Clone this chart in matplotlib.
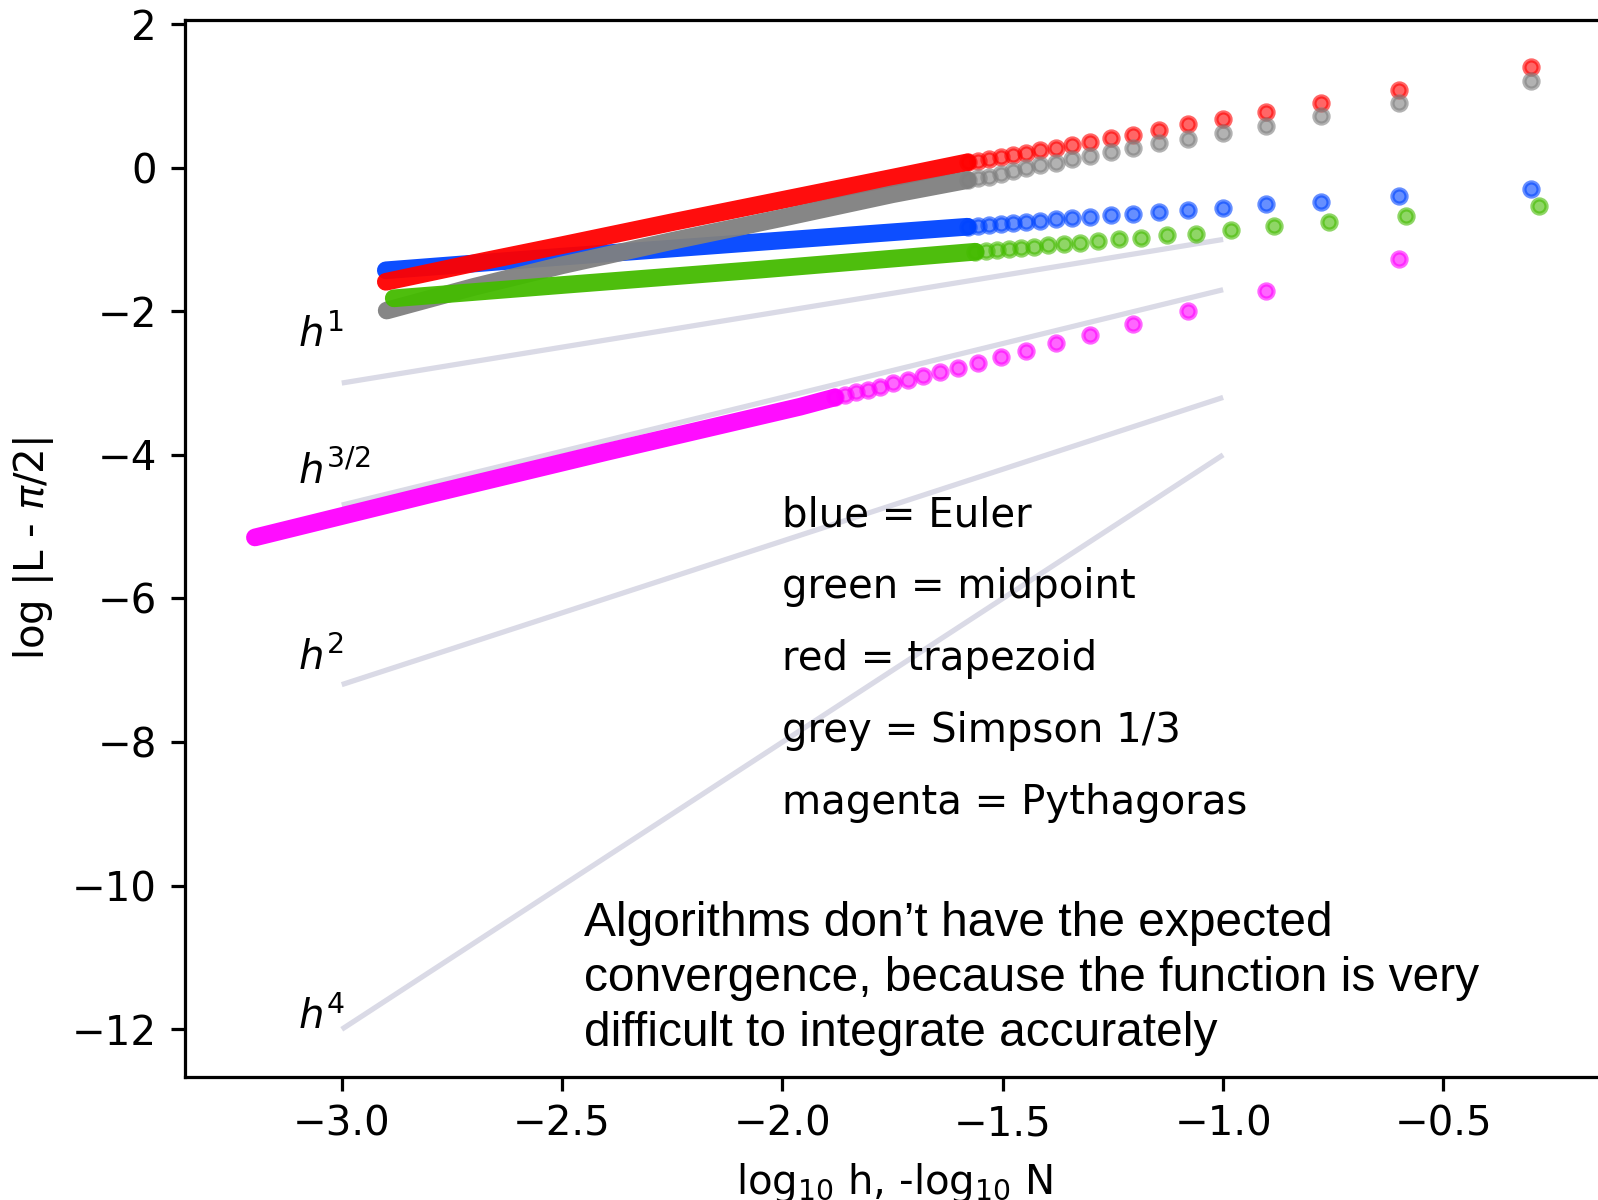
import matplotlib
matplotlib.use("Agg")
import matplotlib.pyplot as plt

# ---------------- data ----------------
# sparse (distinct) points, x = log10 h
x_even = [-0.301, -0.602, -0.778, -0.903, -1.000, -1.079, -1.146, -1.204, -1.255,
          -1.301, -1.342, -1.380, -1.415, -1.447, -1.477, -1.505, -1.531, -1.556, -1.580]
x_green = [-0.283, -0.584, -0.760, -0.885, -0.982, -1.061, -1.128, -1.186, -1.237,
           -1.283, -1.324, -1.362, -1.397, -1.429, -1.459, -1.487, -1.513, -1.538, -1.562]

blue_y = [-0.302, -0.396, -0.475, -0.511, -0.558, -0.591, -0.616, -0.646, -0.658,
          -0.684, -0.697, -0.716, -0.739, -0.753, -0.767, -0.786, -0.800, -0.813, -0.823]
green_y = [-0.531, -0.674, -0.758, -0.813, -0.869, -0.920, -0.941, -0.973, -0.995,
           -1.018, -1.046, -1.064, -1.078, -1.102, -1.116, -1.134, -1.148, -1.157, -1.171]
red_y = [1.397, 1.081, 0.895, 0.770, 0.675, 0.603, 0.524, 0.457, 0.416,
         0.361, 0.315, 0.270, 0.240, 0.208, 0.175, 0.150, 0.118, 0.092, 0.074]
grey_y = [1.206, 0.896, 0.719, 0.575, 0.478, 0.400, 0.338, 0.277, 0.212,
          0.162, 0.115, 0.069, 0.036, -0.010, -0.043, -0.089, -0.126, -0.149, -0.173]

magenta_x = [-0.602, -0.903, -1.079, -1.204, -1.301, -1.380, -1.447, -1.505,
             -1.556, -1.602, -1.643, -1.681, -1.716, -1.748, -1.778, -1.806,
             -1.833, -1.857, -1.881]
magenta_y = [-1.270, -1.725, -1.995, -2.178, -2.335, -2.449, -2.549, -2.640,
             -2.715, -2.785, -2.845, -2.900, -2.955, -3.000, -3.050, -3.090,
             -3.130, -3.165, -3.200]

# dense part (markers merge into a band): points read along the band
blue_band_x = [-2.900, -2.500, -2.050, -1.580]
blue_band_y = [-1.430, -1.240, -1.035, -0.823]
green_band_x = [-2.882, -2.500, -2.050, -1.562]
green_band_y = [-1.820, -1.635, -1.420, -1.171]
red_band_x = [-2.900, -2.700, -2.500, -2.250, -2.000, -1.750, -1.580]
red_band_y = [-1.590, -1.330, -1.080, -0.760, -0.450, -0.140, 0.074]
grey_band_x = [-2.898, -2.700, -2.500, -2.250, -2.000, -1.750, -1.580]
grey_band_y = [-1.990, -1.660, -1.360, -1.020, -0.700, -0.370, -0.173]
magenta_band_x = [-3.197, -2.800, -2.400, -1.960, -1.881]
magenta_band_y = [-5.150, -4.550, -3.960, -3.330, -3.200]

# reference slopes h^p
ref_x = [-3.0, -1.0]
ref_lines = {
    "$h^1$": [-3.0, -1.0],
    "$h^{3/2}$": [-4.7, -1.7],
    "$h^2$": [-7.2, -3.2],
    "$h^4$": [-12.0, -4.0],
}
ref_label_x = -3.1
ref_label_y = [-2.5, -4.4, -7.0, -12.0]

legend_lines = ["blue = Euler", "green = midpoint", "red = trapezoid",
                "grey = Simpson 1/3", "magenta = Pythagoras"]
legend_y = [-5, -6, -7, -8, -9]

note = ("Algorithms don\u2019t have the expected\n"
        "convergence, because the function is very\n"
        "difficult to integrate accurately")

# ---------------- figure ----------------
DPI = 290
fig = plt.figure(figsize=(1598 / DPI, 1200 / DPI), dpi=DPI)
ax = fig.add_axes([185.3 / 1598, 1 - 1076.7 / 1200,
                   (1603 - 185.3) / 1598, (1076.7 - 20) / 1200])

ref_color = "#dadae6"
for (lab, ys), ly in zip(ref_lines.items(), ref_label_y):
    ax.plot(ref_x, ys, color=ref_color, lw=1.3, zorder=1, solid_capstyle="butt")
    ax.text(ref_label_x, ly, lab, fontsize=10)

C_BLUE = "#0044ff"
C_GREEN = "#44bb00"
C_RED = "#ff0000"
C_GREY = "#808080"
C_MAG = "#ff00ff"

band_lw = 4.4
ms = 3.5
mew = 1.05
alpha = 0.6

series = [
    (blue_band_x, blue_band_y, x_even, blue_y, C_BLUE),
    (red_band_x, red_band_y, x_even, red_y, C_RED),
    (grey_band_x, grey_band_y, x_even, grey_y, C_GREY),
    (green_band_x, green_band_y, x_green, green_y, C_GREEN),
    (magenta_band_x, magenta_band_y, magenta_x, magenta_y, C_MAG),
]
z = 2
for bx, by, sx, sy, c in series:
    ax.plot(bx, by, color=c, lw=band_lw, solid_capstyle="round",
            solid_joinstyle="round", alpha=0.95, zorder=z)
    ax.plot(sx, sy, "o", color=c, ms=ms, mew=mew, alpha=alpha, zorder=z + 0.5)
    z += 1

for t, yy in zip(legend_lines, legend_y):
    ax.text(-2.0, yy, t, fontsize=10)

ax.text(-2.45, -10.22, note, fontsize=11.9, family="Liberation Sans",
        va="top", ha="left", linespacing=1.28)

ax.set_xlim(-3.355, -0.138)
ax.set_ylim(-12.66, 2.056)
ax.set_xticks([-3.0, -2.5, -2.0, -1.5, -1.0, -0.5])
ax.set_yticks([2, 0, -2, -4, -6, -8, -10, -12])
ax.set_xlabel("log$_{10}$ h, -log$_{10}$ N")
ax.set_ylabel("log |L - $\\pi$/2|")

fig.savefig("out.png", dpi=DPI)
